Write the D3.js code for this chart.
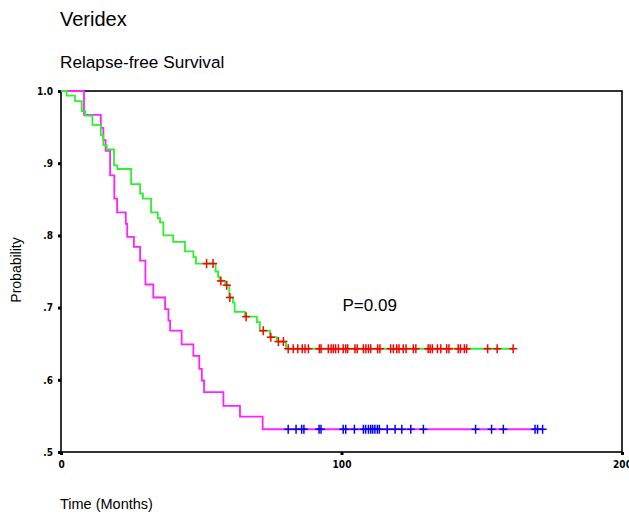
<!DOCTYPE html>
<html>
<head>
<meta charset="utf-8">
<script src="https://cdn.jsdelivr.net/npm/d3@7"></script>
<style>
  body { margin: 0; background: #fff; }
  svg { display: block; }
  text { font-family: "Liberation Sans", Arial, sans-serif; fill: #000; }
</style>
</head>
<body>
<div id="chart"></div>
<script>
// step points [months, survival]
const groupA = [[0,1],[2.0,0.9935],[5.0,0.986],[7.4,0.972],[8.6,0.966],[11.2,0.953],[14.2,0.939],
  [15.1,0.925],[16.3,0.919],[18.9,0.897],[20.1,0.892],[25.0,0.871],[28.2,0.858],[29.2,0.851],
  [32.1,0.832],[34.5,0.824],[35.3,0.818],[36.5,0.800],[40.0,0.791],[44.2,0.778],[47.2,0.770],
  [48.1,0.761],[55.1,0.750],[56.0,0.743],[56.5,0.737],[58.5,0.731],[60.0,0.714],[61.3,0.707],
  [61.9,0.694],[65.6,0.6875],[69.8,0.680],[70.9,0.668],[74.5,0.659],[76.9,0.653],[80.2,0.643]];
const groupACensored = [51.9,54.2,57.0,59.1,60.2,66.0,72.1,74.8,77.5,79.3,
  81.0,82.8,84.4,86.0,87.0,88.2,92.1,92.7,95.3,96.3,97.1,97.9,98.9,100.6,101.5,102.2,104.8,105.6,
  107.8,108.7,109.6,110.4,112.9,113.7,117.5,118.5,119.7,120.5,122.0,123.0,125.6,126.5,130.9,131.6,
  132.4,134.2,135.4,137.5,138.3,141.6,142.4,143.8,144.6,152.1,155.5,161.2];

const groupB = [[0,1],[8.2,0.967],[14.2,0.949],[15.1,0.932],[15.9,0.917],[17.5,0.883],[19.0,0.851],
  [20.0,0.832],[23.1,0.816],[23.6,0.798],[26.0,0.784],[28.2,0.765],[30.1,0.732],[32.9,0.714],
  [37.1,0.698],[38.3,0.682],[38.9,0.668],[43.0,0.649],[47.2,0.633],[49.3,0.615],[50.2,0.599],
  [51.0,0.583],[57.9,0.564],[63.8,0.549],[71.9,0.5315]];
const groupBCensored = [81.0,83.8,85.8,86.6,92.0,92.7,100.6,101.5,104.6,107.8,108.6,109.6,110.4,
  111.1,111.9,112.8,113.5,116.3,119.1,121.5,124.7,129.2,147.8,153.5,157.7,169.0,169.9,171.7];

const xTicks = [0, 100, 200];
const xTickLabels = ["0", "100", "200"];
const yTicks = [0.5, 0.6, 0.7, 0.8, 0.9, 1.0];
const yTickLabels = [".5", ".6", ".7", ".8", ".9", "1.0"];
const pValue = "P=0.09";

var cfg = {
  w: 629, h: 514,
  margin: {top: 91, right: 7, bottom: 62, left: 61},
  colorA: "#2ef02e", censorA: "#ff0000",
  colorB: "#ff22ff", censorB: "#0000ff"
};
const graphW = cfg.w - cfg.margin.left - cfg.margin.right;
const graphH = cfg.h - cfg.margin.top - cfg.margin.bottom;

var root = d3.select("#chart").append("svg")
  .attr("width", cfg.w).attr("height", cfg.h);

// titles
root.append("text").attr("x", 60).attr("y", 26).style("font-size", "20px").text("Veridex");
root.append("text").attr("x", 60).attr("y", 68).style("font-size", "17.2px").text("Relapse-free Survival");
root.append("text").attr("transform", "translate(21,270) rotate(-90)")
  .attr("text-anchor", "middle").style("font-size", "14px").text("Probability");
root.append("text").attr("x", 60).attr("y", 509).style("font-size", "14.5px").text("Time (Months)");

var svg = root.append("g")
  .attr("transform", "translate(" + cfg.margin.left + "," + cfg.margin.top + ")");

var x = d3.scaleLinear().domain([0, 200]).range([0, graphW]);
var y = d3.scaleLinear().domain([0.5, 1.0]).range([graphH, 0]);

// frame
svg.append("rect")
  .attr("x", 0).attr("y", 0).attr("width", graphW).attr("height", graphH)
  .attr("fill", "none").attr("stroke", "#000").attr("stroke-width", 1.6);

// axes with square tick marks
var xAxis = svg.append("g").attr("transform", "translate(0," + graphH + ")")
  .call(d3.axisBottom(x).tickValues(xTicks).tickSize(0).tickPadding(9)
    .tickFormat(function(d, i) { return xTickLabels[i]; }));
var yAxis = svg.append("g")
  .call(d3.axisLeft(y).tickValues(yTicks).tickSize(0).tickPadding(8)
    .tickFormat(function(d, i) { return yTickLabels[i]; }));
[xAxis, yAxis].forEach(function(a) {
  a.select(".domain").remove();
  a.selectAll("text").style("font-size", "10px").style("font-weight", "bold")
    .style("font-family", "'DejaVu Sans Condensed', 'Liberation Sans', sans-serif");
});
xAxis.selectAll(".tick").append("rect")
  .attr("x", -1.5).attr("y", 0).attr("width", 3).attr("height", 3).attr("fill", "#000");
yAxis.selectAll(".tick").append("rect")
  .attr("x", -3).attr("y", -1.5).attr("width", 3).attr("height", 3).attr("fill", "#000");

function survAt(steps, t) {
  var s = steps[0][1];
  steps.forEach(function(p) { if (p[0] <= t) s = p[1]; });
  return s;
}

function drawGroup(steps, censored, lineColor, markColor) {
  var last = d3.max(censored);
  var pts = steps.concat([[last, steps[steps.length - 1][1]]]);
  var line = d3.line()
    .x(function(d) { return x(d[0]); })
    .y(function(d) { return y(d[1]); })
    .curve(d3.curveStepAfter);
  svg.append("path").datum(pts)
    .attr("d", line).attr("fill", "none")
    .attr("stroke", lineColor).attr("stroke-width", 1.8);

  var marks = svg.append("g").selectAll("g").data(censored).enter().append("g")
    .attr("transform", function(d) { return "translate(" + x(d) + "," + y(survAt(steps, d)) + ")"; });
  marks.append("line").attr("x1", -4).attr("x2", 4).attr("y1", 0).attr("y2", 0)
    .attr("stroke", markColor).attr("stroke-width", 1.5);
  marks.append("line").attr("x1", 0).attr("x2", 0).attr("y1", -4.5).attr("y2", 4.5)
    .attr("stroke", markColor).attr("stroke-width", 1.5);
}

drawGroup(groupB, groupBCensored, cfg.colorB, cfg.censorB);
drawGroup(groupA, groupACensored, cfg.colorA, cfg.censorA);

svg.append("text").attr("x", x(100) + 1).attr("y", y(0.7) + 3)
  .style("font-size", "17px").text(pValue);
</script>
</body>
</html>
